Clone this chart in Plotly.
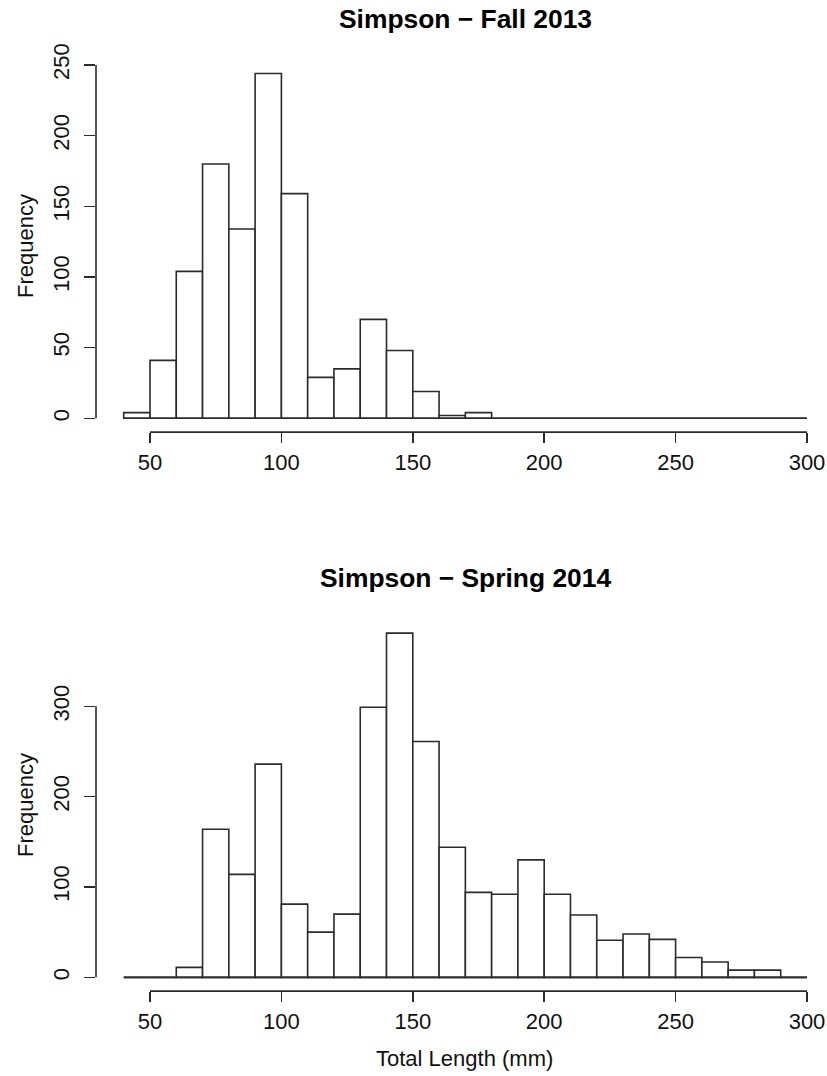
import plotly.graph_objects as go

# ---- data ----
bin_edges = list(range(40, 310, 10))  # 40..300
fall_2013_counts = [4, 41, 104, 180, 134, 244, 159, 29, 35, 70, 48, 19, 2, 4,
                    0, 0, 0, 0, 0, 0, 0, 0, 0, 0, 0, 0]
spring_2014_counts = [0, 0, 11, 164, 114, 236, 81, 50, 70, 299, 381, 261, 144, 94,
                      92, 130, 92, 69, 41, 48, 42, 22, 17, 8, 8, 0]
x_ticks = [50, 100, 150, 200, 250, 300]
y_ticks_fall = [0, 50, 100, 150, 200, 250]
y_ticks_spring = [0, 100, 200, 300]
titles = ["Simpson \u2212 Fall 2013", "Simpson \u2212 Spring 2014"]
x_title = "Total Length (mm)"
y_title = "Frequency"

W, H = 827, 1076
FONT = "Liberation Sans, Arial, Helvetica, sans-serif"
LINE = "#2b2b2b"


def fx(px):
    return px / W


def fy(py):
    return 1 - py / H


centers = [(bin_edges[i] + bin_edges[i + 1]) / 2 for i in range(len(bin_edges) - 1)]
widths = [bin_edges[i + 1] - bin_edges[i] for i in range(len(bin_edges) - 1)]

fig = go.Figure()

panels = [
    dict(counts=fall_2013_counts, yt=y_ticks_fall, xa="x", ya="y",
         yr=[-9.76, 253.76], dom=[fy(432.1), fy(59.7)], title_y=19.5, ytitle_y=246),
    dict(counts=spring_2014_counts, yt=y_ticks_spring, xa="x2", ya="y2",
         yr=[-15.24, 396.24], dom=[fy(991.1), fy(619.4)], title_y=578, ytitle_y=805),
]

xdom = [fx(96), 1.0]
xrange_ = [29.45, 300 + (W - 807) / 2.628]

for i, p in enumerate(panels):
    fig.add_trace(go.Bar(
        x=centers, y=p["counts"], width=widths,
        marker=dict(color="white", line=dict(color=LINE, width=1.6)),
        xaxis=p["xa"], yaxis=p["ya"], showlegend=False, hoverinfo="skip",
    ))
    sfx = "" if i == 0 else "2"
    fig.layout["xaxis" + sfx] = dict(
        domain=xdom, range=xrange_, anchor="y" + sfx, automargin=False,
        tickmode="array", tickvals=x_ticks, ticktext=[str(v) for v in x_ticks],
        ticks="outside", ticklen=10, tickwidth=1.6, tickcolor=LINE,
        showline=False, showgrid=False, zeroline=False,
        tickfont=dict(family=FONT, size=22, color="#111"),
        ticklabelstandoff=0,
    )
    fig.layout["yaxis" + sfx] = dict(
        domain=p["dom"], range=p["yr"], anchor="x" + sfx, automargin=False,
        tickmode="array", tickvals=p["yt"], ticktext=[str(v) for v in p["yt"]],
        ticks="outside", ticklen=11, tickwidth=1.6, tickcolor=LINE,
        tickangle=-90,
        showline=False, showgrid=False, zeroline=False,
        tickfont=dict(family=FONT, size=22, color="#111"),
        ticklabelstandoff=6,
    )
    # zero-count baseline across all bins
    fig.add_shape(type="line", xref=p["xa"], yref=p["ya"],
                  x0=bin_edges[0], x1=bin_edges[-1], y0=0, y1=0,
                  line=dict(color=LINE, width=1.6))
    # R-style axis lines spanning tick range
    fig.add_shape(type="line", xref=p["xa"], yref=p["ya"] + " domain",
                  x0=x_ticks[0], x1=x_ticks[-1], y0=0, y1=0,
                  line=dict(color=LINE, width=1.6))
    fig.add_shape(type="line", xref=p["xa"] + " domain", yref=p["ya"],
                  x0=0, x1=0, y0=p["yt"][0], y1=p["yt"][-1],
                  line=dict(color=LINE, width=1.6))
    # titles
    fig.add_annotation(text="<b>" + titles[i] + "</b>", xref="paper", yref="paper",
                       x=fx(465), y=fy(p["title_y"]), xanchor="center", yanchor="middle",
                       showarrow=False, font=dict(family=FONT, size=26.4, color="#000"))
    fig.add_annotation(text=y_title, xref="paper", yref="paper",
                       x=fx(25), y=fy(p["ytitle_y"]), xanchor="center", yanchor="middle",
                       textangle=-90, showarrow=False,
                       font=dict(family=FONT, size=22, color="#111"))

fig.add_annotation(text=x_title, xref="paper", yref="paper",
                   x=fx(464), y=fy(1058), xanchor="center", yanchor="middle",
                   showarrow=False, font=dict(family=FONT, size=22, color="#111"))

fig.update_layout(
    width=W, height=H, autosize=False,
    margin=dict(l=0, r=0, t=0, b=0),
    paper_bgcolor="white", plot_bgcolor="white",
    bargap=0,
)

fig.write_html(
    "out.html",
    config={"displayModeBar": False, "staticPlot": True},
    post_script="document.body.style.margin='0';document.body.style.overflow='hidden';",
)
